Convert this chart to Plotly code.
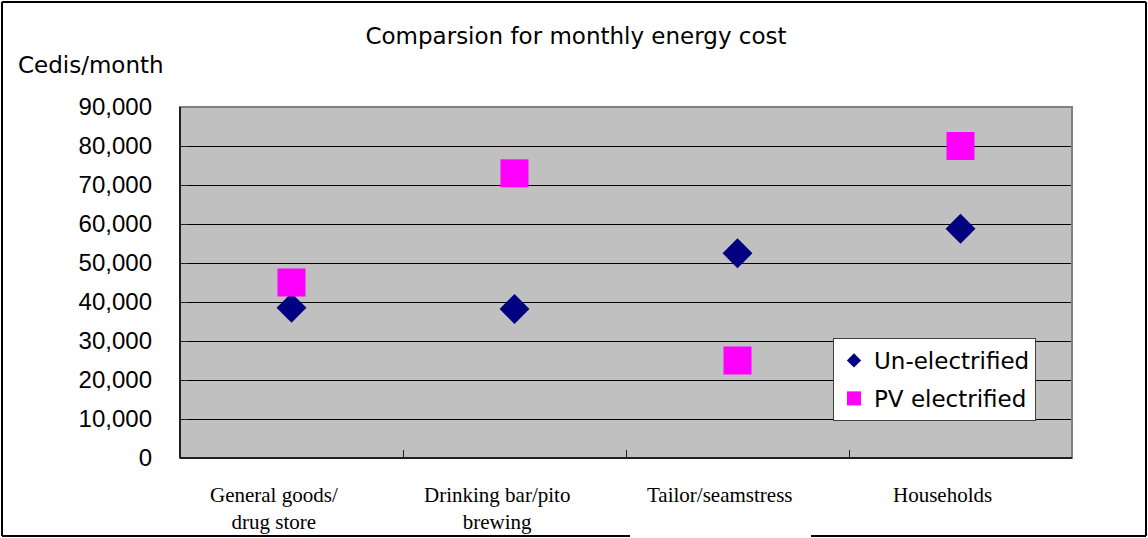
import plotly.graph_objects as go

# Monthly energy cost by customer category (Cedis/month)
categories = ["General goods/<br>drug store", "Drinking bar/pito<br>brewing",
              "Tailor/seamstress", "Households"]
un_electrified = [38500, 38200, 52500, 58800]
pv_electrified = [45000, 73000, 25000, 80000]
y_ticks = [0, 10000, 20000, 30000, 40000, 50000, 60000, 70000, 80000, 90000]

W, H = 1148, 538
L, R, T, B = 180, 76, 107, 80

x_pos = list(range(1, len(categories) + 1))

fig = go.Figure()

fig.add_trace(go.Scatter(
    x=x_pos, y=un_electrified, mode="markers", name="Un-electrified",
    marker=dict(symbol="diamond", size=23, color="#000080", line=dict(width=0)),
    showlegend=False,
))
fig.add_trace(go.Scatter(
    x=x_pos, y=pv_electrified, mode="markers", name="PV electrified",
    marker=dict(symbol="square", size=28, color="#FF00FF", line=dict(width=0)),
    showlegend=False,
))
# legend entries with smaller swatches
fig.add_trace(go.Scatter(
    x=[None], y=[None], mode="markers", name="Un-electrified", legendgroup="a",
    marker=dict(symbol="diamond", size=11, color="#000080"),
))
fig.add_trace(go.Scatter(
    x=[None], y=[None], mode="markers", name="PV electrified", legendgroup="b",
    marker=dict(symbol="square", size=14, color="#FF00FF"),
))

def px_x(p):
    return (p - L) / (W - L - R)

def px_y(p):
    return (H - B - p) / (H - T - B)

# category labels below the axis
for xi, lab in zip(x_pos, categories):
    fig.add_annotation(
        x=xi, y=px_y(481), xref="x", yref="paper", text=lab, showarrow=False,
        yanchor="top", xanchor="center", align="center", xshift=-18,
        font=dict(family="Liberation Serif", size=21, color="black"),
    )

fig.add_annotation(
    x=px_x(16), y=px_y(65), xref="paper", yref="paper", text="Cedis/month",
    showarrow=False, xanchor="left", yanchor="middle",
    font=dict(family="DejaVu Sans", size=23, color="black"),
)

shapes = [
    # plot frame
    dict(type="rect", xref="paper", yref="paper", x0=0, x1=1, y0=0, y1=1,
         line=dict(color="#808080", width=2), layer="above"),
    dict(type="line", xref="paper", yref="paper", x0=0, x1=0, y0=0, y1=1,
         line=dict(color="#202020", width=2), layer="above"),
    dict(type="line", xref="paper", yref="paper", x0=0, x1=1, y0=0, y1=0,
         line=dict(color="#202020", width=2), layer="above"),
    # outer chart border
    dict(type="line", xref="paper", yref="paper", x0=px_x(2), x1=px_x(1146),
         y0=px_y(2), y1=px_y(2), line=dict(color="black", width=2)),
    dict(type="line", xref="paper", yref="paper", x0=px_x(2), x1=px_x(2),
         y0=px_y(2), y1=px_y(536), line=dict(color="black", width=2)),
    dict(type="line", xref="paper", yref="paper", x0=px_x(1146), x1=px_x(1146),
         y0=px_y(2), y1=px_y(536), line=dict(color="black", width=2)),
    dict(type="line", xref="paper", yref="paper", x0=px_x(2), x1=px_x(630),
         y0=px_y(536), y1=px_y(536), line=dict(color="black", width=2)),
    dict(type="line", xref="paper", yref="paper", x0=px_x(811), x1=px_x(1146),
         y0=px_y(536), y1=px_y(536), line=dict(color="black", width=2)),
]

fig.update_layout(
    width=W, height=H,
    margin=dict(l=L, r=R, t=T, b=B),
    paper_bgcolor="white", plot_bgcolor="#C0C0C0",
    title=dict(text="Comparsion for monthly energy cost", x=576 / W, xanchor="center",
               y=1 - 36 / H, yanchor="middle",
               font=dict(family="DejaVu Sans", size=23, color="black")),
    xaxis=dict(range=[0.5, len(categories) + 0.5], tickvals=[1.5, 2.5, 3.5],
               showticklabels=False, ticks="inside", ticklen=8, tickcolor="#202020",
               showgrid=False, zeroline=False, showline=False, fixedrange=True),
    yaxis=dict(range=[0, 90000], tickvals=y_ticks, tickformat=",",
               ticks="inside", ticklen=8, tickcolor="#202020", ticklabelstandoff=27,
               showgrid=True, gridcolor="black", gridwidth=1, zeroline=False,
               showline=False,
               tickfont=dict(family="Liberation Sans", size=24, color="black")),
    legend=dict(x=px_x(833), y=px_y(338), xanchor="left", yanchor="top",
                bgcolor="white", bordercolor="#404040", borderwidth=1,
                font=dict(family="DejaVu Sans", size=23, color="black"),
                itemsizing="trace", tracegroupgap=5),
    shapes=shapes,
    showlegend=True,
)

fig.write_html("out.html")
